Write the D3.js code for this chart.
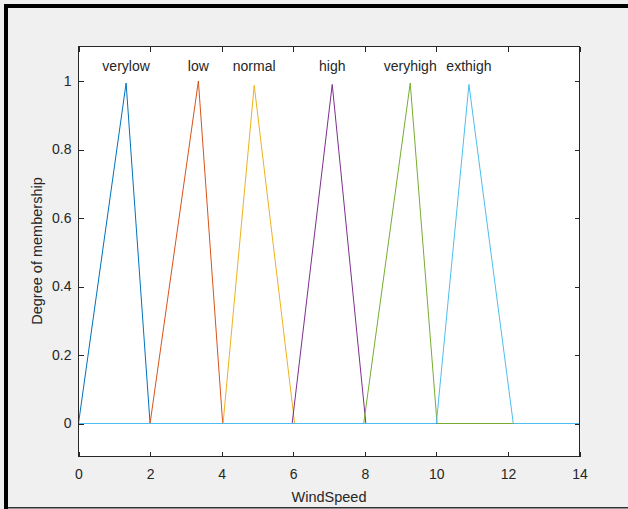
<!DOCTYPE html>
<html>
<head>
<meta charset="utf-8">
<script src="https://cdn.jsdelivr.net/npm/d3@7"></script>
<style>
html,body{margin:0;padding:0;background:#f0f0f0;}
svg{display:block;}
text{font-family:"Liberation Sans",Arial,sans-serif;fill:#262626;}
</style>
</head>
<body>
<svg id="chart" width="628" height="509"></svg>
<script>
// Membership functions (triangles): name, start, peak x, peak y, end
const mfNames = ["verylow","low","normal","high","veryhigh","exthigh"];
const mfStart = [0, 2, 4.04, 5.97, 7.97, 10.0];
const mfPeakX = [1.33, 3.35, 4.91, 7.09, 9.27, 10.91];
const mfPeakY = [0.994, 1.0, 0.987, 0.99, 0.994, 0.99];
const mfEnd   = [2.0, 4.03, 6.04, 8.03, 10.02, 12.15];
const colors  = ["#0072BD","#D95319","#EDB120","#7E2F8E","#77AC30","#4DBEEE"];
const xTicks = [0,2,4,6,8,10,12,14];
const yTicks = [0,0.2,0.4,0.6,0.8,1];
const xDomain = [0,14];
const yDomain = [-0.1,1.1];

const svg = d3.select("#chart");
const W = 628, H = 509;
// figure frame
svg.append("rect").attr("x",0).attr("y",0).attr("width",W).attr("height",H).attr("fill","#f0f0f0");
svg.append("rect").attr("x",4).attr("y",4).attr("width",4).attr("height",H-4).attr("fill","#000");
svg.append("rect").attr("x",4).attr("y",4).attr("width",W-4).attr("height",4).attr("fill","#000");
svg.append("rect").attr("x",8).attr("y",507).attr("width",W-8).attr("height",1.5).attr("fill","#333");

const L = 78.5, R = 579.5, T = 46.5, B = 456.5;
const x = d3.scaleLinear().domain(xDomain).range([L,R]);
const y = d3.scaleLinear().domain(yDomain).range([457.75,46.75]);

svg.append("rect").attr("x",L).attr("y",T).attr("width",R-L).attr("height",B-T).attr("fill","#fff");

const g = svg.append("g");
const line = d3.line().x(d=>x(d[0])).y(d=>y(d[1]));
mfNames.forEach((n,i)=>{
  const pts = [[xDomain[0],0],[mfStart[i],0],[mfPeakX[i],mfPeakY[i]],[mfEnd[i],0],[xDomain[1],0]];
  g.append("path").datum(pts).attr("d",line).attr("fill","none")
    .attr("stroke",colors[i]).attr("stroke-width",1);
});
mfNames.forEach((n,i)=>{
  svg.append("text").attr("x",x(mfPeakX[i])).attr("y",y(1.044))
    .attr("text-anchor","middle").attr("dominant-baseline","central")
    .attr("font-size","14px").text(n);
});

// axes
const axCol = "#262626";
function styleAxis(sel){
  sel.select(".domain").remove();
  sel.selectAll(".tick line").attr("stroke",axCol).attr("shape-rendering","crispEdges");
  sel.selectAll(".tick text").attr("font-size","14px").attr("fill",axCol).attr("font-family","Liberation Sans, Arial, sans-serif");
}
const xb = svg.append("g").attr("transform",`translate(0,${B})`)
  .call(d3.axisBottom(x).tickValues(xTicks).tickFormat(d3.format("d")).tickSize(-5).tickPadding(13));
styleAxis(xb);
const xt = svg.append("g").attr("transform",`translate(0,${T})`)
  .call(d3.axisTop(x).tickValues(xTicks).tickSize(-5).tickFormat(""));
styleAxis(xt);
const yl = svg.append("g").attr("transform",`translate(${L},0)`)
  .call(d3.axisLeft(y).tickValues(yTicks).tickFormat(d=>d===0||d===1?String(d):d3.format(".1f")(d)).tickSize(-5).tickPadding(7));
styleAxis(yl);
const yr = svg.append("g").attr("transform",`translate(${R},0)`)
  .call(d3.axisRight(y).tickValues(yTicks).tickSize(-5).tickFormat(""));
styleAxis(yr);

svg.append("rect").attr("x",L).attr("y",T).attr("width",R-L).attr("height",B-T)
  .attr("fill","none").attr("stroke",axCol).attr("stroke-width",1);

svg.append("text").attr("x",(L+R)/2).attr("y",497).attr("text-anchor","middle")
  .attr("dominant-baseline","central").attr("font-size","14.5px").text("WindSpeed");
svg.append("text").attr("transform",`translate(37,251) rotate(-90)`).attr("text-anchor","middle")
  .attr("dominant-baseline","central").attr("font-size","14.5px").text("Degree of membership");
</script>
</body>
</html>
